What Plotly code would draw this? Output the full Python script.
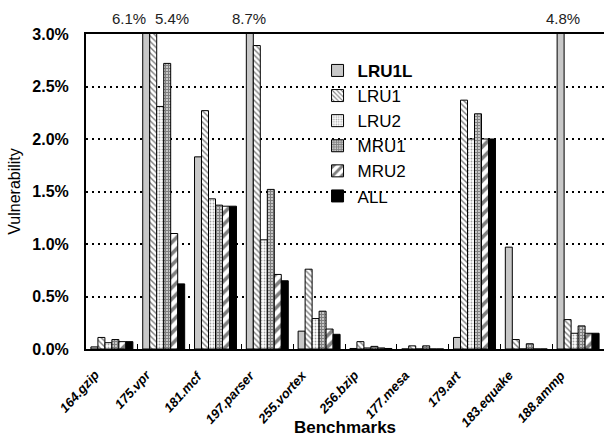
import plotly.graph_objects as go

categories = ["164.gzip", "175.vpr", "181.mcf", "197.parser", "255.vortex",
              "256.bzip", "177.mesa", "179.art", "183.equake", "188.ammp"]
series_names = ["LRU1L", "LRU1", "LRU2", "MRU1", "MRU2", "ALL"]
LRU1L = [0.02, 6.1, 1.83, 8.7, 0.17, 0.005, 0.0, 0.11, 0.97, 4.8]
LRU1 = [0.11, 5.4, 2.27, 2.89, 0.76, 0.07, 0.03, 2.37, 0.09, 0.28]
LRU2 = [0.06, 2.31, 1.43, 1.04, 0.29, 0.01, 0.0, 2.0, 0.0, 0.15]
MRU1 = [0.09, 2.72, 1.37, 1.52, 0.36, 0.025, 0.03, 2.24, 0.05, 0.22]
MRU2 = [0.07, 1.10, 1.36, 0.71, 0.19, 0.01, 0.0, 2.0, 0.0, 0.15]
ALL = [0.07, 0.62, 1.36, 0.65, 0.14, 0.005, 0.0, 2.0, 0.0, 0.15]
series_values = [LRU1L, LRU1, LRU2, MRU1, MRU2, ALL]
clip_labels = [("6.1%", 1, -35), ("5.4%", 1, 8), ("8.7%", 3, -18), ("4.8%", 9, -15)]
ytick_vals = [0, 0.5, 1.0, 1.5, 2.0, 2.5, 3.0]
ytick_text = ["0.0%", "0.5%", "1.0%", "1.5%", "2.0%", "2.5%", "3.0%"]

styles = [
    dict(color="#c8c8c8"),
    dict(color="white", pattern=dict(shape="\\", fgcolor="black", bgcolor="white", size=4, solidity=0.35, fillmode="overlay")),
    dict(color="white", pattern=dict(shape=".", fgcolor="#444", bgcolor="white", size=3, solidity=0.3, fillmode="overlay")),
    dict(color="white", pattern=dict(shape="+", fgcolor="black", bgcolor="white", size=3, solidity=0.75, fillmode="overlay")),
    dict(color="white", pattern=dict(shape="/", fgcolor="black", bgcolor="white", size=8, solidity=0.45, fillmode="overlay")),
    dict(color="black"),
]

fig = go.Figure()
for name, vals, st in zip(series_names, series_values, styles):
    label = "<b>%s</b>" % name if name == "LRU1L" else name
    fig.add_trace(go.Bar(
        x=categories, y=vals, name=label,
        marker=dict(line=dict(color="black", width=1), **st),
    ))

for txt, idx, shift in clip_labels:
    fig.add_annotation(x=categories[idx], y=1.0, xref="x", yref="paper",
                       text=txt, showarrow=False, xshift=shift, yshift=16,
                       yanchor="middle",
                       font=dict(family="Liberation Sans", size=15, color="#222"))

# rotated category labels
for cat in categories:
    fig.add_annotation(x=cat, y=0, xref="x", yref="paper", text=cat,
                       showarrow=False, textangle=-48,
                       xanchor="right", yanchor="top", xshift=-7, yshift=-16,
                       font=dict(family="Liberation Sans", size=13,
                                 weight="bold", style="italic", color="black"))

fig.add_annotation(x=0.5, y=(349 - 427) / 315, xref="paper", yref="paper",
                   text="Benchmarks", showarrow=False, yanchor="middle",
                   font=dict(family="Liberation Sans", size=17, weight="bold", color="black"))

fig.update_layout(
    width=605, height=439,
    margin=dict(l=86, r=1, t=34, b=90),
    paper_bgcolor="white", plot_bgcolor="white",
    barmode="group", bargap=0.19, bargroupgap=0.0,
    font=dict(family="Liberation Sans", color="black"),
    legend=dict(x=0.447, y=0.94, xanchor="left", yanchor="top",
                bgcolor="rgba(0,0,0,0)", font=dict(size=17), tracegroupgap=0),
    xaxis=dict(range=[-0.5, 9.5], autorange=False,
               showline=True, linecolor="black", linewidth=2, mirror=True,
               ticks="inside", ticklen=5, tickcolor="black", tickson="boundaries",
               showticklabels=False),
    yaxis=dict(range=[0, 3.0], showline=True, linecolor="black", linewidth=2,
               tickvals=ytick_vals, ticktext=ytick_text,
               ticks="outside", ticklen=12, tickcolor="rgba(0,0,0,0)",
               tickfont=dict(size=16, weight="bold"),
               showgrid=True, gridcolor="black", griddash="2px,4px", gridwidth=1.5,
               zeroline=False,
               title=dict(text="Vulnerability", font=dict(size=16), standoff=8)),
)
fig.write_html("out.html")
